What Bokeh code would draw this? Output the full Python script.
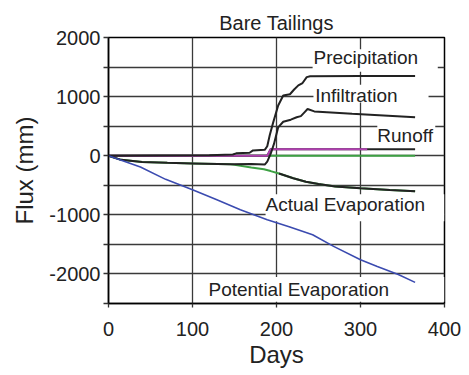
from bokeh.plotting import figure
from bokeh.models import Range1d, FixedTicker
from bokeh.core.properties import value
from bokeh.embed import file_html
from bokeh.resources import INLINE

# ---- data ----
precip_days = [0, 60, 120, 148, 152, 168, 172, 186, 189, 192, 196, 202, 208, 216, 221, 226, 231, 236, 240, 300, 365]
precip_vals = [0, 5, 10, 20, 40, 50, 90, 100, 160, 350, 560, 850, 1020, 1040, 1120, 1190, 1230, 1330, 1345, 1350, 1350]

infil_days = [0, 15, 40, 70, 100, 145, 170, 186, 189, 193, 197, 202, 208, 217, 224, 229, 233, 237, 245, 290, 365]
infil_vals = [0, -70, -105, -120, -130, -145, -140, -150, -100, 30, 200, 480, 575, 610, 650, 670, 730, 790, 750, 710, 650]

runoff_days = [0, 189, 193, 250, 308, 365]
runoff_vals = [0, 0, 110, 110, 110, 110]

drain_days = [0, 365]
drain_vals = [0, 0]

aevap_days = [0, 15, 40, 70, 100, 145, 150, 170, 185, 193, 203, 220, 235, 250, 270, 300, 335, 365]
aevap_vals = [0, -70, -105, -120, -130, -145, -155, -200, -230, -260, -300, -380, -440, -480, -520, -550, -580, -600]

pevap_days = [0, 38, 68, 100, 129, 157, 189, 215, 243, 268, 300, 320, 345, 365]
pevap_vals = [0, -190, -400, -575, -745, -914, -1083, -1200, -1337, -1534, -1760, -1873, -2010, -2143]

x_ticks = [0, 100, 200, 300, 400]
y_ticks = [-2500, -2000, -1500, -1000, -500, 0, 500, 1000, 1500, 2000]
y_tick_labels = {-2000: "-2000", -1000: "-1000", 0: "0", 1000: "1000", 2000: "2000",
                 -2500: "", -1500: "", -500: "", 500: "", 1500: ""}

label_texts = ["Precipitation", "Infiltration", "Runoff", "Actual Evaporation", "Potential Evaporation"]
label_x = [244, 246, 320, 187, 119]
label_y = [1658, 1015, 338, -830, -2267]
box_left = [243, 244, 320, 187, 110]
box_right = [392, 381, 389, 400, 400]
box_top = [1800, 1200, 520, -650, -2050]
box_bottom = [1420, 900, 200, -1110, -2470]

FONT = "Liberation Sans"
BLACK = "#222222"
GREEN = "#3da043"
PURPLE = "#b040b0"
BLUE = "#3b4bb0"

p = figure(width=469, height=375, output_backend="svg", toolbar_location=None,
           x_range=Range1d(0, 400), y_range=Range1d(-2500, 2000),
           min_border_left=108, min_border_right=25, min_border_top=37, min_border_bottom=72,
           title="Bare Tailings")

p.title.text_font = FONT
p.title.text_font_size = "20px"
p.title.text_font_style = "normal"
p.title.text_color = BLACK
p.title.align = "center"
p.title.standoff = 8

p.outline_line_color = "black"
p.outline_line_width = 1.5
p.background_fill_color = "white"
p.border_fill_color = "white"

p.xaxis.ticker = FixedTicker(ticks=x_ticks)
p.yaxis.ticker = FixedTicker(ticks=y_ticks)
p.yaxis.major_label_overrides = y_tick_labels
p.xaxis.minor_tick_line_color = None
p.yaxis.minor_tick_line_color = None
for ax in (p.xaxis, p.yaxis):
    ax.major_label_text_font = FONT
    ax.major_label_text_font_size = "20px"
    ax.major_label_text_color = BLACK
    ax.axis_label_text_font = FONT
    ax.axis_label_text_font_size = "24px"
    ax.axis_label_text_font_style = "normal"
    ax.axis_label_text_color = BLACK
    ax.axis_line_color = "black"
    ax.axis_line_width = 1.5
    ax.major_tick_line_color = "#333333"
    ax.major_tick_line_width = 1.3
    ax.major_tick_in = 0
p.xaxis.major_tick_out = 4
p.yaxis.major_tick_out = 5
p.xaxis.major_label_standoff = 14
p.yaxis.major_label_standoff = 3
p.xaxis.axis_label = "Days"
p.yaxis.axis_label = "Flux (mm)"
p.xaxis.axis_label_standoff = 2
p.yaxis.axis_label_standoff = 8

p.xgrid.ticker = FixedTicker(ticks=x_ticks)
p.ygrid.ticker = FixedTicker(ticks=y_ticks)
for g in (p.xgrid, p.ygrid):
    g.grid_line_color = "#3a3a3a"
    g.grid_line_width = 1.3

# white label boxes (hide grid lines behind the labels)
p.quad(left=box_left, right=box_right, top=box_top, bottom=box_bottom,
       fill_color="white", line_color=None)

# series
p.line(drain_days, drain_vals, line_color=GREEN, line_width=2)
p.line(aevap_days, aevap_vals, line_color=GREEN, line_width=2)
n_ae = sum(1 for d in aevap_days if d < 203)
p.line(aevap_days[n_ae:], aevap_vals[n_ae:], line_color=BLACK, line_width=2)
p.line(runoff_days, runoff_vals, line_color=BLACK, line_width=2)
n_ro = sum(1 for d in runoff_days if d <= 308)
p.line(runoff_days[:n_ro], runoff_vals[:n_ro], line_color=PURPLE, line_width=2)
p.line(infil_days, infil_vals, line_color=BLACK, line_width=2)
p.line(precip_days, precip_vals, line_color=BLACK, line_width=2)
p.line(pevap_days, pevap_vals, line_color=BLUE, line_width=1.6)

p.text(x=label_x, y=label_y, text=label_texts, text_font=value(FONT),
       text_font_size="19px", text_color=BLACK, text_baseline="middle", text_align="left")

open("out.html", "w").write(file_html(p, INLINE))
